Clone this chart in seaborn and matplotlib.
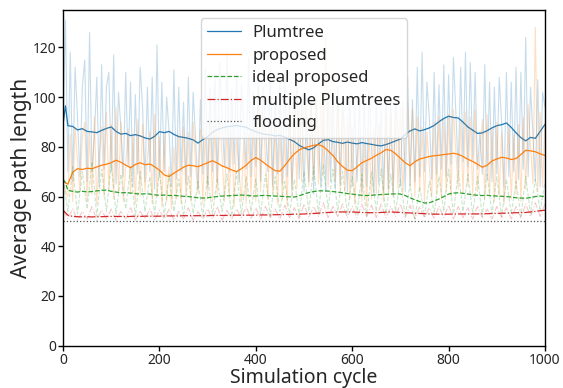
import numpy as np
import pandas as pd
import matplotlib
matplotlib.use("Agg")
import matplotlib.pyplot as plt
import seaborn as sns

# ---------------- data ----------------
smooth_cycles = [0, 5] + list(range(10, 1001, 10))

plumtree_smooth = [89, 96.5, 88.5, 88.2, 86.8, 87.3, 86.2, 86.0, 85.7, 86.6, 87.4, 88.0,
                   86.2, 85.1, 85.4, 84.5, 84.9, 84.4, 83.6, 83.1, 84.2, 86.1,
                   85.7, 86.2, 85.0, 84.1, 83.8, 83.4, 82.8, 81.5, 82.9, 84.1,
                   85.8, 87.0, 87.6, 88.1, 88.3, 88.6, 88.2, 87.9, 86.8, 86.1,
                   85.4, 85.0, 84.8, 84.4, 84.6, 83.9, 83.0, 82.1, 80.6, 79.6,
                   78.8, 79.6, 81.2, 82.6, 82.9, 82.1, 81.8, 81.4, 81.9, 81.5,
                   81.2, 81.7, 81.3, 81.0, 80.6, 80.4, 80.9, 81.6, 82.4, 83.1,
                   85.0, 86.4, 87.2, 86.4, 86.9, 87.6, 88.6, 90.1, 91.4, 92.3,
                   91.8, 91.6, 89.9, 88.0, 86.7, 85.4, 85.6, 86.5, 87.6, 88.5,
                   88.9, 89.6, 87.8, 85.6, 83.7, 82.4, 83.8, 83.4, 86.2, 89.0]
proposed_smooth = [66.5, 65.5, 65.0, 69.8, 71.2, 70.9, 71.4, 71.2, 71.9, 72.6, 73.0, 73.6,
                   74.6, 73.8, 72.6, 71.6, 72.9, 73.6, 72.8, 73.1, 72.0, 70.6,
                   68.7, 68.0, 69.4, 70.6, 71.8, 72.6, 72.4, 72.0, 72.8, 73.6,
                   74.4, 73.5, 72.3, 71.6, 70.7, 70.0, 71.2, 72.6, 74.5, 75.7,
                   74.6, 73.1, 71.7, 70.4, 70.2, 72.4, 75.0, 77.2, 78.8, 79.6,
                   80.1, 80.6, 80.9, 80.1, 78.4, 76.5, 74.0, 72.1, 70.6, 70.4,
                   71.9, 73.6, 74.5, 75.4, 76.6, 77.6, 78.9, 78.6, 77.2, 75.4,
                   73.6, 72.4, 74.0, 75.1, 75.6, 76.1, 76.4, 76.6, 76.9, 77.1,
                   77.4, 77.0, 76.1, 75.0, 74.1, 73.0, 71.8, 72.6, 74.3, 75.1,
                   75.8, 75.5, 74.9, 75.3, 76.9, 78.6, 78.4, 78.0, 77.2, 76.5]
ideal_smooth = [67, 65.5, 62.5, 62.1, 61.8, 62.1, 61.9, 62.0, 62.3, 62.5, 62.6, 62.1,
                61.8, 61.5, 61.6, 61.4, 61.2, 61.0, 61.1, 61.0, 60.7, 60.5,
                60.6, 60.4, 60.5, 60.3, 60.1, 60.0, 59.8, 59.5, 59.4, 59.5,
                59.8, 60.0, 60.2, 60.3, 60.4, 60.5, 60.6, 60.5, 60.3, 60.2,
                60.4, 60.5, 60.3, 60.2, 60.1, 60.0, 59.9, 59.8, 60.3, 61.0,
                61.6, 62.0, 62.3, 62.3, 62.2, 62.0, 61.8, 61.5, 61.2, 61.0,
                60.7, 60.5, 60.4, 60.5, 60.7, 60.8, 60.9, 61.0, 61.1, 61.0,
                60.4, 59.5, 58.7, 58.0, 57.4, 57.5, 58.2, 59.0, 60.0, 61.0,
                61.4, 61.5, 61.3, 61.0, 60.7, 60.5, 60.4, 60.5, 60.3, 60.2,
                60.1, 60.0, 59.8, 59.5, 59.4, 59.3, 59.6, 60.0, 60.2, 60.0]
multi_smooth = [54.5, 53.5, 52.5, 52.0, 51.9, 51.8, 51.9, 51.8, 51.9, 51.9, 52.0, 52.0,
                52.0, 52.0, 51.9, 52.0, 52.1, 52.0, 52.1, 52.1, 52.1, 52.1,
                52.2, 52.2, 52.2, 52.2, 52.3, 52.3, 52.3, 52.3, 52.3, 52.3,
                52.4, 52.4, 52.4, 52.4, 52.5, 52.5, 52.5, 52.5, 52.5, 52.5,
                52.6, 52.6, 52.6, 52.7, 52.7, 52.8, 52.8, 52.9, 52.9, 53.0,
                53.1, 53.2, 53.3, 53.5, 53.6, 53.7, 53.8, 53.8, 53.8, 53.8,
                53.7, 53.6, 53.5, 53.5, 53.5, 53.6, 53.7, 53.8, 53.7, 53.6,
                53.5, 53.4, 53.3, 53.2, 53.1, 53.0, 52.9, 52.9, 52.9, 52.9,
                53.0, 53.0, 53.0, 53.0, 53.0, 53.0, 53.1, 53.1, 53.2, 53.2,
                53.3, 53.3, 53.4, 53.5, 53.5, 53.6, 53.8, 54.0, 54.3, 54.5]

raw_cycles_fine = list(range(0, 1001, 5))
plumtree_raw = [88, 131, 70, 118, 66, 112, 92, 68, 104, 115,
                66, 126, 70, 84, 108, 64, 113, 71, 104, 110,
                70, 117, 65, 102, 88, 68, 110, 72, 106, 64,
                101, 69, 112, 96, 66, 104, 70, 108, 63, 121,
                68, 106, 70, 100, 86, 64, 111, 67, 104, 70,
                98, 65, 108, 68, 102, 83, 63, 99, 69, 112,
                64, 104, 70, 109, 66, 114, 92, 72, 118, 70,
                103, 73, 110, 66, 105, 90, 71, 116, 68, 102,
                72, 108, 66, 104, 88, 70, 112, 64, 100, 69,
                106, 65, 110, 68, 99, 63, 86, 105, 67, 101,
                62, 96, 66, 100, 61, 98, 82, 64, 97, 62,
                102, 66, 99, 63, 104, 65, 98, 84, 62, 101,
                64, 97, 66, 100, 62, 99, 64, 103, 80, 61,
                98, 65, 96, 62, 101, 63, 97, 61, 100, 88,
                64, 98, 62, 108, 65, 99, 66, 112, 68, 118,
                70, 106, 92, 67, 110, 69, 105, 71, 113, 68,
                109, 73, 116, 94, 70, 112, 74, 118, 72, 114,
                75, 110, 71, 86, 69, 113, 67, 106, 66, 104,
                69, 108, 90, 64, 110, 68, 106, 70, 112, 67,
                110, 71, 124, 68, 104, 85, 66, 107, 64, 102,
                96]
proposed_raw = [67, 62, 60, 85, 58, 88, 74, 62, 84, 90,
                58, 86, 61, 92, 57, 76, 88, 60, 94, 63,
                89, 59, 96, 62, 90, 58, 72, 87, 61, 85,
                57, 91, 60, 89, 62, 75, 86, 57, 93, 60,
                84, 56, 86, 58, 72, 55, 80, 59, 85, 57,
                88, 60, 86, 58, 90, 73, 61, 87, 57, 86,
                60, 91, 58, 88, 61, 92, 76, 58, 88, 60,
                86, 56, 84, 70, 58, 83, 57, 85, 60, 88,
                58, 104, 62, 94, 75, 59, 92, 61, 88, 57,
                86, 59, 84, 56, 95, 60, 102, 63, 98, 66,
                100, 82, 64, 97, 67, 102, 65, 98, 68, 125,
                64, 96, 78, 66, 99, 63, 94, 62, 92, 59,
                88, 57, 76, 84, 58, 82, 56, 86, 59, 88,
                61, 90, 74, 58, 92, 62, 95, 60, 94, 63,
                96, 61, 84, 98, 64, 95, 60, 92, 62, 88,
                58, 86, 72, 60, 90, 61, 92, 59, 91, 62,
                93, 60, 95, 78, 63, 90, 61, 94, 64, 92,
                60, 95, 62, 76, 91, 59, 93, 61, 88, 58,
                90, 60, 86, 57, 74, 88, 59, 85, 61, 89,
                58, 92, 63, 97, 80, 65, 128, 62, 94, 64,
                90]

raw_cycles_coarse = list(range(0, 1001, 10))
ideal_raw = [67, 54, 72, 53, 70, 55, 74, 52, 71, 54,
             73, 53, 69, 55, 72, 52, 70, 54, 68, 53,
             70, 52, 69, 54, 67, 52, 68, 53, 66, 52,
             68, 53, 67, 54, 69, 52, 70, 53, 68, 54,
             67, 53, 69, 52, 68, 54, 66, 53, 67, 52,
             70, 54, 72, 53, 73, 55, 71, 54, 70, 53,
             68, 53, 69, 52, 70, 54, 71, 53, 69, 54,
             67, 52, 65, 51, 64, 52, 66, 53, 68, 54,
             71, 53, 70, 54, 69, 53, 68, 52, 69, 53,
             68, 52, 67, 53, 66, 52, 68, 53, 67, 54,
             66]
multi_raw = [54.5, 51, 55, 50.5, 54, 51, 56, 50.5, 54.5, 51,
             55, 50.5, 54, 51, 55.5, 50.5, 54, 51, 55, 50.5,
             54.5, 51, 55, 50.5, 54, 51, 55.5, 50.5, 54, 51,
             55, 51, 56, 50.5, 54.5, 51, 55, 51.5, 56, 51,
             55.5, 51, 56, 51.5, 55, 51, 56.5, 51.5, 55.5, 51,
             57, 51.5, 56, 52, 57.5, 51.5, 56, 52, 57, 51.5,
             56, 51.5, 57, 52, 56.5, 51.5, 57, 51.5, 56, 52,
             57, 51.5, 56.5, 51, 56, 51.5, 55.5, 51, 56, 51.5,
             56.5, 51, 56, 51.5, 55.5, 51, 56, 51.5, 55, 51,
             56, 51.5, 55.5, 51, 56, 51.5, 57, 52, 57.5, 52,
             57]

flood_cycles = [0, 1000]
flood_values = [50, 50]

x_ticks = [0, 200, 400, 600, 800, 1000]
y_ticks = [0, 20, 40, 60, 80, 100, 120]

# ---------------- style ----------------
sns.set_style("ticks")
plt.rcParams['font.family'] = ['Noto Sans', 'DejaVu Sans']

fig = plt.figure(figsize=(5.63, 3.88), dpi=100)
ax = fig.add_axes([0.112, 0.109, 0.856, 0.865])

blue, orange, green, red = "#1f77b4", "#ff7f0e", "#2ca02c", "#d62728"

series = [
    ("Plumtree", raw_cycles_fine, plumtree_raw, plumtree_smooth, blue, "-"),
    ("proposed", raw_cycles_fine, proposed_raw, proposed_smooth, orange, "-"),
    ("ideal proposed", raw_cycles_coarse, ideal_raw, ideal_smooth, green, "--"),
    ("multiple Plumtrees", raw_cycles_coarse, multi_raw, multi_smooth, red, "-."),
]

for name, rc, rv, sv, col, ls in series:
    sns.lineplot(x=rc, y=rv, ax=ax, color=col, linestyle=ls, linewidth=0.8,
                 alpha=0.25, estimator=None, legend=False)
    sns.lineplot(x=smooth_cycles, y=sv, ax=ax, color=col, linestyle=ls, linewidth=0.9,
                 estimator=None, label=name)

sns.lineplot(x=flood_cycles, y=flood_values, ax=ax, color="#555555", linestyle=":",
             linewidth=0.9, estimator=None, label="flooding")

ax.set_xlim(0, 1000)
ax.set_ylim(0, 135)
ax.set_xticks(x_ticks)
ax.set_yticks(y_ticks)
ax.tick_params(labelsize=10, length=3.5, width=1, color="black", pad=1.5)
for s in ax.spines.values():
    s.set_color("black")
    s.set_linewidth(1)
ax.set_xlabel("Simulation cycle", fontsize=14, labelpad=0)
ax.set_ylabel("Average path length", fontsize=15, labelpad=0.5)

leg = ax.legend(loc="upper center", fontsize=12, framealpha=0.8,
                handlelength=2.0, handletextpad=0.7, borderpad=0.4, labelspacing=0.39)

fig.savefig("out.png", dpi=100)
